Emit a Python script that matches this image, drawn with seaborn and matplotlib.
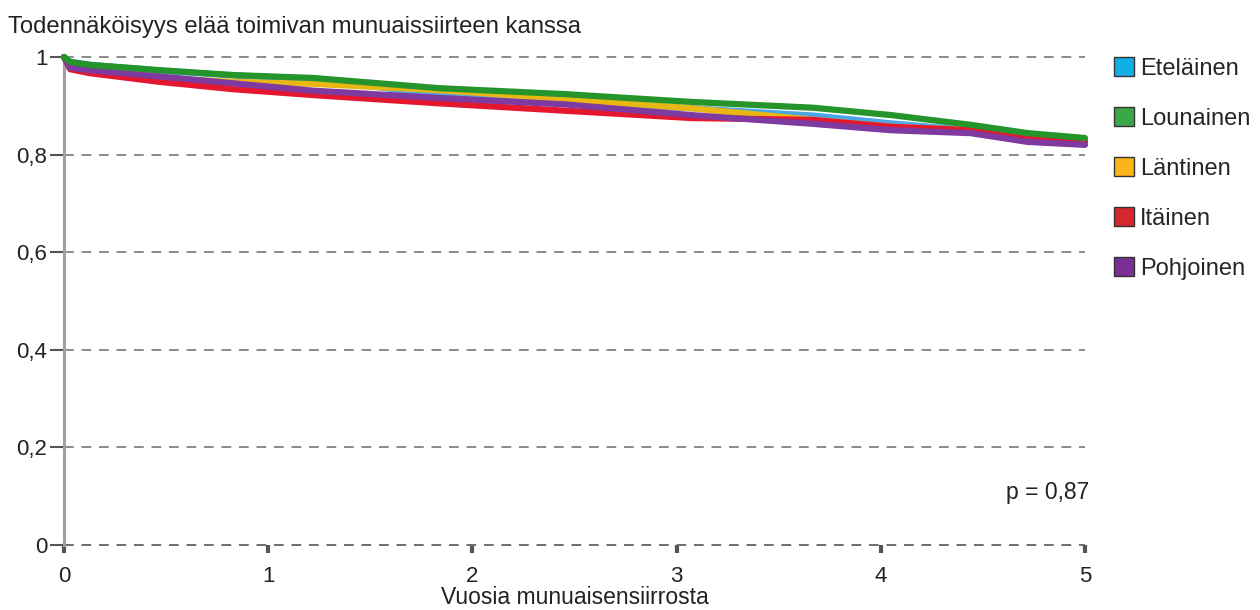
import numpy as np
import pandas as pd
import seaborn as sns
import matplotlib
matplotlib.use("Agg")
import matplotlib.pyplot as plt
from matplotlib.patches import Patch

# ---- data ----
years = [0, 0.03, 0.125, 0.47, 0.83, 1.22, 1.84, 2.45, 3.07, 3.67, 4.05, 4.44, 4.72, 5.0]
etelainen = [1.0, 0.990, 0.984, 0.972, 0.962, 0.955, 0.922, 0.906, 0.895, 0.880, 0.864, 0.850, 0.838, 0.830]
lounainen = [1.0, 0.990, 0.984, 0.973, 0.963, 0.957, 0.936, 0.924, 0.908, 0.896, 0.881, 0.861, 0.844, 0.834]
lantinen = [1.0, 0.985, 0.975, 0.957, 0.949, 0.945, 0.932, 0.914, 0.895, 0.871, 0.857, 0.850, 0.837, 0.828]
itainen = [1.0, 0.975, 0.967, 0.949, 0.934, 0.922, 0.905, 0.890, 0.875, 0.871, 0.857, 0.850, 0.837, 0.826]
pohjoinen = [1.0, 0.978, 0.973, 0.960, 0.946, 0.931, 0.916, 0.903, 0.881, 0.863, 0.850, 0.844, 0.826, 0.820]
regions = ["Eteläinen", "Lounainen", "Läntinen", "Itäinen", "Pohjoinen"]
y_ticks = [0, 0.2, 0.4, 0.6, 0.8, 1]
y_tick_labels = ["0", "0,2", "0,4", "0,6", "0,8", "1"]
x_ticks = [0, 1, 2, 3, 4, 5]
p_text = "p = 0,87"

line_colors = ["#4ba6e6", "#25952b", "#e9b714", "#e5172f", "#7e3a9e"]
legend_colors = ["#12aee8", "#3aa748", "#fbb419", "#d7272e", "#7a2f94"]
draw_order = ["Eteläinen", "Läntinen", "Itäinen", "Pohjoinen", "Lounainen"]

series = dict(zip(regions, [etelainen, lounainen, lantinen, itainen, pohjoinen]))
df = pd.concat([pd.DataFrame({"Vuosi": years, "Osuus": series[r], "Alue": r})
                for r in draw_order], ignore_index=True)

sns.set_theme(style="white")
plt.rcParams["font.family"] = ["Liberation Sans", "DejaVu Sans"]

fig = plt.figure(figsize=(12.6, 6.1), dpi=100)
ax = fig.add_axes([64 / 1260, 1 - 545 / 610, (1085 - 64) / 1260, (545 - 57) / 610])

sns.lineplot(data=df, x="Vuosi", y="Osuus", hue="Alue", hue_order=draw_order,
             palette=dict(zip(regions, line_colors)), sort=False,
             linewidth=4.5, legend=False, ax=ax, clip_on=False, zorder=3)

ax.set_xlim(0, 5)
ax.set_ylim(0, 1)
ax.set_yticks(y_ticks)
ax.set_yticklabels(y_tick_labels)
ax.set_xticks(x_ticks)
ax.set_xticklabels([str(v) for v in x_ticks])

for v in y_ticks:
    ax.axhline(v, color="#6e6e6e" if v == 0 else "#8a8a8a", lw=1.4, ls=(0, (5, 4)),
               zorder=1, clip_on=False)

for s in ["top", "right", "bottom"]:
    ax.spines[s].set_visible(False)
ax.spines["left"].set_color("#a0a0a0")
ax.spines["left"].set_linewidth(2.2)
ax.tick_params(axis="y", direction="out", length=10, width=1.5, color="#555555",
               labelsize=16, labelcolor="#222222", pad=2, left=True)
ax.tick_params(axis="x", direction="out", length=6, width=3, color="#555555",
               labelsize=16, labelcolor="#222222", pad=9, bottom=True)

ax.set_xlabel("Vuosia munuaisensiirrosta", fontsize=16.5, color="#222222")
ax.xaxis.set_label_coords(0.5, -(604 - 545) / 488)
ax.xaxis.label.set_va("baseline")
ax.set_ylabel("")
fig.text(8 / 1260, 1 - 33 / 610, "Todennäköisyys elää toimivan munuaissiirteen kanssa",
         fontsize=17.2, color="#222222", va="baseline", ha="left")
ax.text(5.02, 0.107, p_text, fontsize=16.5, color="#222222", ha="right", va="center")

handles = [Patch(facecolor=legend_colors[regions.index(r)], edgecolor="#333333",
                 linewidth=1.0, label=r) for r in regions]
fig.legend(handles=handles, loc="upper left", bbox_to_anchor=(1114 / 1260, 1 - 57 / 610),
           frameon=False, fontsize=17, handlelength=0.85, handleheight=0.85,
           handletextpad=0.25, labelspacing=1.16, borderaxespad=0, borderpad=0)

fig.savefig("out.png", dpi=100)
